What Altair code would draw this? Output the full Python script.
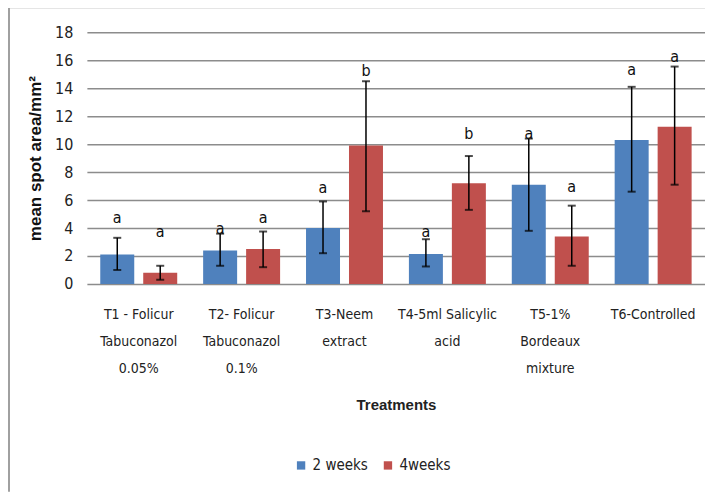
import altair as alt
import pandas as pd

treatments = [
    "T1 - Folicur|Tabuconazol|0.05%",
    "T2- Folicur|Tabuconazol|0.1%",
    "T3-Neem|extract",
    "T4-5ml Salicylic|acid",
    "T5-1%|Bordeaux|mixture",
    "T6-Controlled",
]
series = ["2 weeks", "4weeks"]

mean_2w = [2.1, 2.4, 4.0, 2.15, 7.1, 10.3]
low_2w = [1.0, 1.3, 2.2, 1.25, 3.8, 6.6]
high_2w = [3.3, 3.6, 5.9, 3.2, 10.4, 14.1]
letter_2w = ["a", "a", "a", "a", "a", "a"]
letter_y_2w = [4.75, 3.95, 6.85, 3.7, 10.75, 15.3]

mean_4w = [0.8, 2.5, 9.9, 7.2, 3.4, 11.25]
low_4w = [0.3, 1.2, 5.2, 5.3, 1.3, 7.1]
high_4w = [1.3, 3.75, 14.5, 9.15, 5.6, 15.55]
letter_4w = ["a", "a", "b", "b", "a", "a"]
letter_y_4w = [3.7, 4.75, 15.25, 10.7, 6.9, 16.25]
y_ticks = [0, 2, 4, 6, 8, 10, 12, 14, 16, 18]

rows = []
for i, t in enumerate(treatments):
    rows.append(dict(t=t, s=series[0], v=mean_2w[i], lo=low_2w[i], hi=high_2w[i],
                     let=letter_2w[i], ly=letter_y_2w[i]))
    rows.append(dict(t=t, s=series[1], v=mean_4w[i], lo=low_4w[i], hi=high_4w[i],
                     let=letter_4w[i], ly=letter_y_4w[i]))
df = pd.DataFrame(rows)

FONT = "DejaVu Sans Condensed, Liberation Sans"
BOLD = "Liberation Sans"

x = alt.X("t:N", sort=treatments,
          scale=alt.Scale(paddingInner=0.252, paddingOuter=0.13),
          axis=alt.Axis(title="Treatments", labelAngle=0, labelExpr="split(datum.label, '|')",
                        labelFont=FONT, labelFontSize=14, labelColor="#222222",
                        labelLineHeight=27, labelPadding=24, domain=False, ticks=False,
                        titleFont=BOLD, titleFontSize=15, titleFontWeight="bold",
                        titleColor="#222222", titlePadding=22, labelBaseline="top"))
xo = alt.XOffset("s:N", sort=series, scale=alt.Scale(paddingInner=0.209, paddingOuter=0))

y_scale = alt.Scale(domain=[0, 18], nice=False)
y_axis = alt.Axis(title="mean spot area/mm²", values=y_ticks, labelOverlap=False,
                  grid=True, gridColor="#8c8c8c", gridWidth=1.5,
                  domain=False, ticks=False, labelFont=FONT, labelFontSize=16,
                  labelColor="#222222", labelPadding=14,
                  titleFont=BOLD, titleFontSize=17, titleFontWeight="bold",
                  titleColor="#111111", titlePadding=10)

bars = alt.Chart(df).mark_bar().encode(
    x=x, xOffset=xo,
    y=alt.Y("v:Q", scale=y_scale, axis=y_axis),
    color=alt.Color("s:N", sort=series,
                    scale=alt.Scale(domain=series, range=["#4F81BD", "#C0504D"]),
                    legend=alt.Legend(title=None, orient="none", direction="horizontal",
                                      legendX=207, legendY=426, symbolType="square",
                                      symbolSize=70, labelFont=FONT, labelFontSize=15,
                                      labelColor="#222222", columnPadding=12, labelOffset=4)),
)

rules = alt.Chart(df).mark_rule(color="black", strokeWidth=1.5).encode(
    x=x, xOffset=xo, y=alt.Y("lo:Q", scale=y_scale, axis=y_axis), y2="hi:Q")

cap_lo = alt.Chart(df).mark_tick(color="black", size=8, thickness=2).encode(
    x=x, xOffset=xo, y=alt.Y("lo:Q", scale=y_scale, axis=y_axis))
cap_hi = alt.Chart(df).mark_tick(color="black", size=8, thickness=2).encode(
    x=x, xOffset=xo, y=alt.Y("hi:Q", scale=y_scale, axis=y_axis))

letters = alt.Chart(df).mark_text(font=FONT, fontSize=16, color="#111111",
                                  baseline="middle").encode(
    x=x, xOffset=xo, y=alt.Y("ly:Q", scale=y_scale, axis=y_axis), text="let:N")

# decorative outer frame of the chart (top and left edges)
frame = pd.DataFrame({"k": [0]})
frame_top = alt.Chart(frame).mark_rule(color="#dcdcdc", strokeWidth=2).encode(
    x=alt.value(-78), x2=alt.value(619), y=alt.value(-24.5))
frame_left = alt.Chart(frame).mark_rule(color="#a0a0a0", strokeWidth=2).encode(
    x=alt.value(-78), y=alt.value(-24.5), y2=alt.value(460))

chart = alt.layer(frame_top, frame_left, bars, rules, cap_lo, cap_hi, letters).properties(
    width=619, height=252,
    autosize=alt.AutoSizeParams(type="none"),
    padding={"left": 79, "top": 24, "right": 0, "bottom": 208},
).configure(background="white").configure_view(stroke=None)

chart.save("out.html", embed_options={"renderer": "svg", "actions": False})
